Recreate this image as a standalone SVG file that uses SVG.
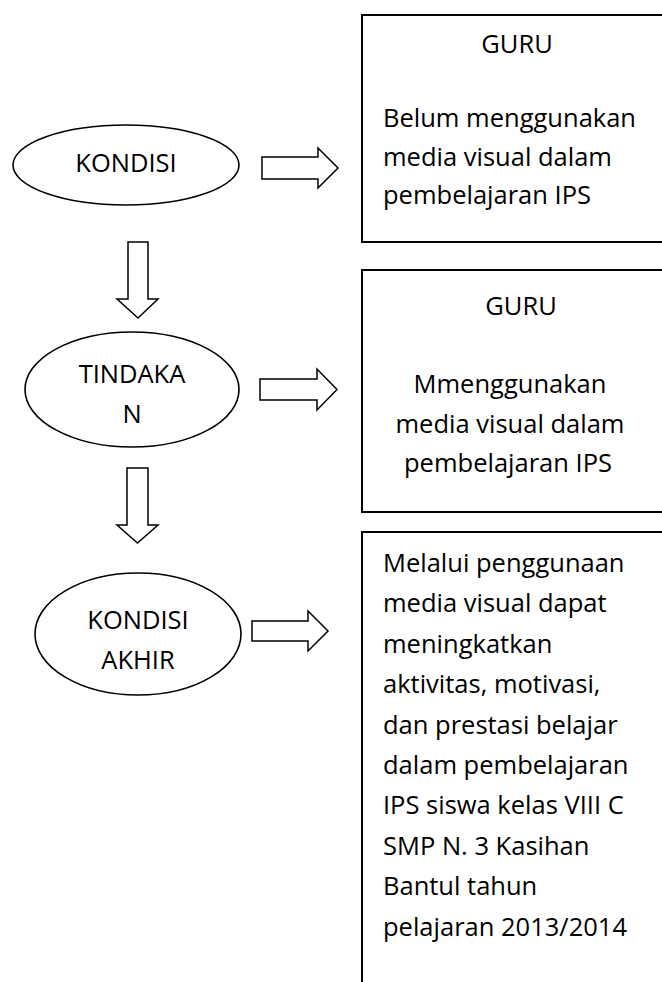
<svg xmlns="http://www.w3.org/2000/svg" width="662" height="982" viewBox="0 0 662 982">
<style>
.shape{fill:#fff;stroke:#000;stroke-width:1.6}
.box{fill:#fff;stroke:#000;stroke-width:2}
.arrow{fill:#fff;stroke:#000;stroke-width:1.5;stroke-linejoin:miter}
text{font-family:"Open Sans","Liberation Sans",sans-serif;font-size:25.5px;fill:#000}
.c{text-anchor:middle}
</style>
<rect width="662" height="982" fill="#fff"/>
<g id="kondisi">
<ellipse class="shape" cx="126" cy="165" rx="113" ry="40"/>
<text class="c" x="126" y="172">KONDISI</text>
</g>
<g id="tindakan">
<ellipse class="shape" cx="132" cy="389.5" rx="107" ry="57.5"/>
<text class="c" x="132" y="383">TINDAKA</text>
<text class="c" x="132" y="423">N</text>
</g>
<g id="kondisi-akhir">
<ellipse class="shape" cx="138" cy="634" rx="103" ry="61"/>
<text class="c" x="138" y="629">KONDISI</text>
<text class="c" x="138" y="669">AKHIR</text>
</g>
<g id="guru1">
<rect class="box" x="362" y="15" width="320" height="227"/>
<text class="c" x="517" y="53">GURU</text>
<text x="383" y="127">Belum menggunakan</text>
<text x="383" y="165.5">media visual dalam</text>
<text x="383" y="204">pembelajaran IPS</text>
</g>
<g id="guru2">
<rect class="box" x="362" y="270" width="320" height="242"/>
<text class="c" x="521" y="315">GURU</text>
<text class="c" x="510" y="393">Mmenggunakan</text>
<text class="c" x="510" y="433">media visual dalam</text>
<text class="c" x="508" y="472">pembelajaran IPS</text>
</g>
<g id="hasil">
<rect class="box" x="362" y="532" width="320" height="480"/>
<text x="383" y="572">Melalui penggunaan</text>
<text x="383" y="612.4">media visual dapat</text>
<text x="383" y="652.8">meningkatkan</text>
<text x="383" y="693.2">aktivitas, motivasi,</text>
<text x="383" y="733.6">dan prestasi belajar</text>
<text x="383" y="774">dalam pembelajaran</text>
<text x="383" y="814.4">IPS siswa kelas VIII C</text>
<text x="383" y="854.8">SMP N. 3 Kasihan</text>
<text x="383" y="895.2">Bantul tahun</text>
<text x="383" y="935.6">pelajaran 2013/2014</text>
</g>
<g id="connectors">
<polygon class="arrow" points="262,157 318,157 318,148 338,168 318,188 318,179 262,179"/>
<polygon class="arrow" points="260,379 317,379 317,369 337,389.5 317,410 317,400 260,400"/>
<polygon class="arrow" points="252,621 308,621 308,611 328,631 308,651 308,641 252,641"/>
<polygon class="arrow" points="128,242 148,242 148,299 158,299 138,318 117,299 128,299"/>
<polygon class="arrow" points="127,468 148,468 148,525 158,525 137.5,543 117,525 127,525"/>
</g>
</svg>
